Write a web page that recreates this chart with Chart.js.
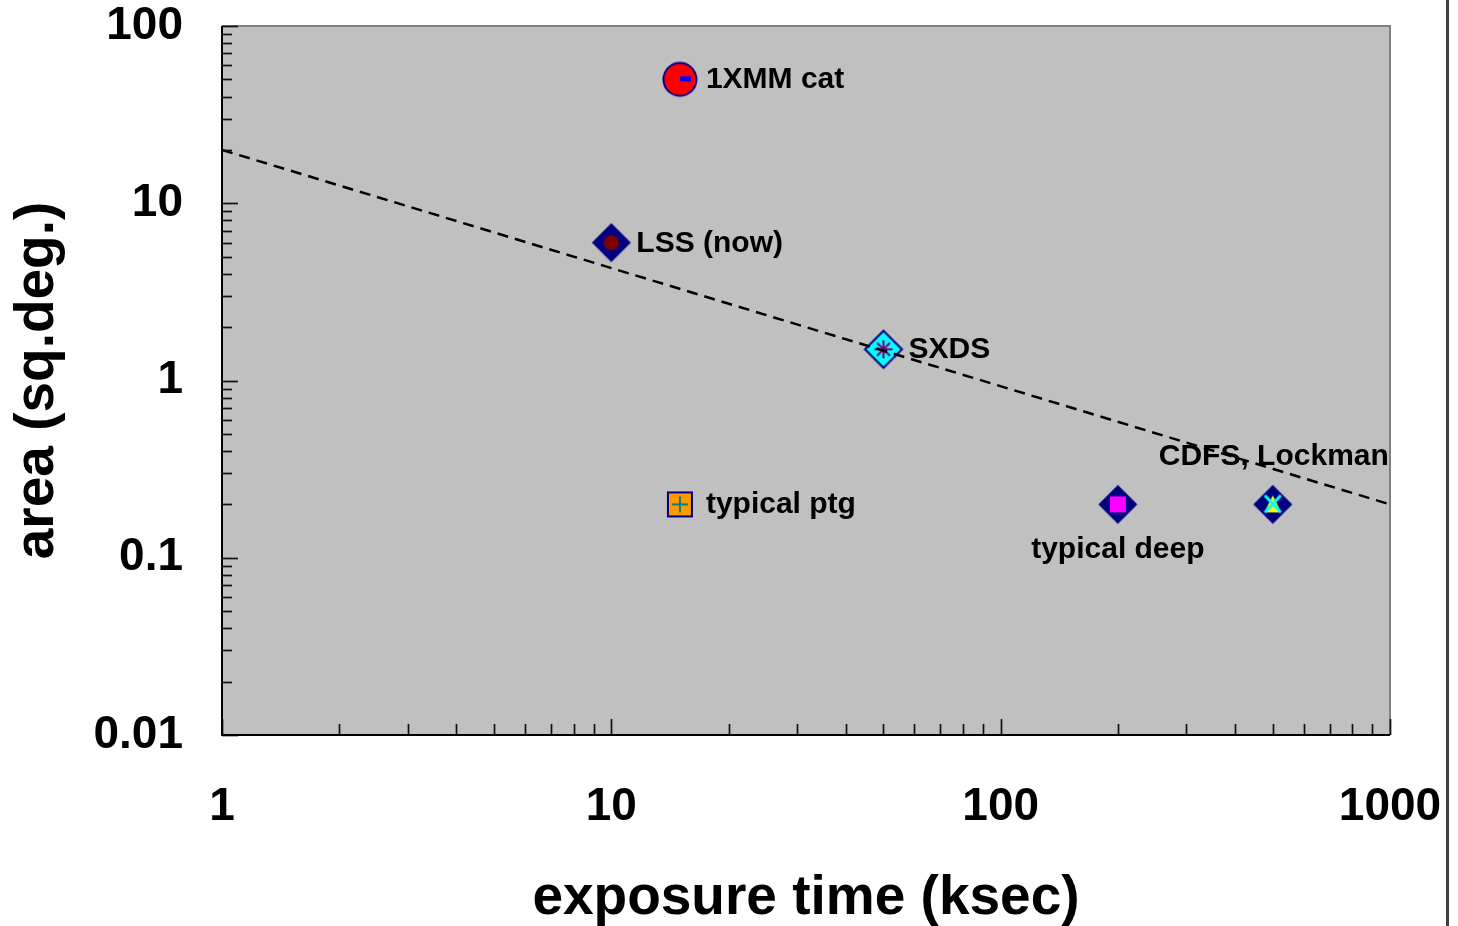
<!DOCTYPE html>
<html>
<head>
<meta charset="utf-8">
<script src="https://cdn.jsdelivr.net/npm/chart.js@4/dist/chart.umd.min.js"></script>
<style>
  html, body { margin: 0; padding: 0; background: #ffffff; }
  #wrap { width: 1458px; height: 926px; }
</style>
</head>
<body>
<div id="wrap"><canvas id="c" width="1458" height="926"></canvas></div>
<script>
// ---- data ----
const surveyNames = ['1XMM cat', 'LSS (now)', 'SXDS', 'typical ptg', 'typical deep', 'CDFS, Lockman'];
const exposureKsec = [15, 10, 50, 15, 200, 500];
const areaSqDeg = [50, 6, 1.5, 0.2, 0.2, 0.2];
const trendExposure = [1, 1000];
const trendArea = [20, 0.2];
const xTickValues = [1, 10, 100, 1000];
const yTickValues = [0.01, 0.1, 1, 10, 100];
const xTitle = 'exposure time (ksec)';
const yTitle = 'area (sq.deg.)';

// ---- styles ----
const FONT = "'Liberation Sans', Arial, Helvetica, sans-serif";
const NAVY = '#000080';
const labelPlacement = [
  {dx: 26, dy: 9, align: 'left'},
  {dx: 25, dy: 9, align: 'left'},
  {dx: 25, dy: 9, align: 'left'},
  {dx: 26, dy: 9, align: 'left'},
  {dx: 0, dy: 54, align: 'center'},
  {dx: 1, dy: -39, align: 'center'}
];

function makeMarker(draw) {
  const cv = document.createElement('canvas');
  cv.width = 46; cv.height = 46;
  const g = cv.getContext('2d');
  draw(g, 23, 23);
  return cv;
}
function diamond(g, cx, cy, h, fill, stroke) {
  g.beginPath();
  g.moveTo(cx, cy - h); g.lineTo(cx + h, cy); g.lineTo(cx, cy + h); g.lineTo(cx - h, cy); g.closePath();
  g.fillStyle = fill; g.fill();
  if (stroke) { g.lineWidth = 2; g.strokeStyle = stroke; g.stroke(); }
}
function seg(g, x1, y1, x2, y2) { g.beginPath(); g.moveTo(x1, y1); g.lineTo(x2, y2); g.stroke(); }

const markers = [
  makeMarker((g, cx, cy) => {
    g.beginPath(); g.arc(cx, cy, 16.5, 0, Math.PI * 2);
    g.fillStyle = '#FF0000'; g.fill(); g.lineWidth = 2; g.strokeStyle = NAVY; g.stroke();
    g.fillStyle = '#0000FF'; g.fillRect(cx, cy - 3, 11, 5);
  }),
  makeMarker((g, cx, cy) => {
    diamond(g, cx, cy, 19.5, NAVY);
    g.beginPath(); g.arc(cx, cy, 7.5, 0, Math.PI * 2); g.fillStyle = '#800000'; g.fill();
  }),
  makeMarker((g, cx, cy) => {
    diamond(g, cx, cy, 18.5, '#00FFFF', NAVY);
    g.strokeStyle = '#800080'; g.lineWidth = 2;
    seg(g, cx, cy - 9, cx, cy + 9);
    seg(g, cx - 9, cy, cx + 9, cy);
    seg(g, cx - 6.5, cy - 6.5, cx + 6.5, cy + 6.5);
    seg(g, cx + 6.5, cy - 6.5, cx - 6.5, cy + 6.5);
  }),
  makeMarker((g, cx, cy) => {
    g.fillStyle = '#FF9900'; g.fillRect(cx - 12, cy - 12, 24, 24);
    g.lineWidth = 2; g.strokeStyle = NAVY; g.strokeRect(cx - 12, cy - 12, 24, 24);
    g.strokeStyle = '#008080'; g.lineWidth = 2;
    seg(g, cx - 8, cy, cx + 8, cy); seg(g, cx, cy - 8, cx, cy + 8);
  }),
  makeMarker((g, cx, cy) => {
    diamond(g, cx, cy, 19.5, NAVY);
    g.fillStyle = '#FF00FF'; g.fillRect(cx - 8, cy - 8, 16, 16);
  }),
  makeMarker((g, cx, cy) => {
    diamond(g, cx, cy, 19.5, NAVY);
    g.beginPath(); g.moveTo(cx, cy - 9); g.lineTo(cx + 8.5, cy + 8); g.lineTo(cx - 8.5, cy + 8); g.closePath();
    g.fillStyle = '#FFFF00'; g.fill();
    g.strokeStyle = '#00FFFF'; g.lineWidth = 3;
    seg(g, cx - 8, cy - 9, cx + 8, cy + 8); seg(g, cx + 8, cy - 9, cx - 8, cy + 8);
  })
];

const surveyPoints = exposureKsec.map((x, i) => ({x: x, y: areaSqDeg[i]}));
const trendPoints = trendExposure.map((x, i) => ({x: x, y: trendArea[i]}));

function minorValues(min, max) {
  const out = [];
  for (let d = min; d < max; d *= 10) {
    for (let k = 2; k <= 9; k++) out.push(+(k * d).toPrecision(6));
  }
  return out;
}

function zeroPadding(scale) {
  scale.paddingTop = 0; scale.paddingBottom = 0;
  scale.paddingLeft = 0; scale.paddingRight = 0;
}

const plotFramePlugin = {
  id: 'plotFrame',
  beforeDatasetsDraw(chart) {
    const {ctx, chartArea: a} = chart;
    ctx.save();
    ctx.fillStyle = '#C0C0C0';
    ctx.fillRect(a.left, a.top, a.right - a.left, a.bottom - a.top);
    // point labels (drawn beneath markers and trend line)
    const meta = chart.getDatasetMeta(0);
    ctx.font = 'bold 30px ' + FONT;
    ctx.fillStyle = '#000000';
    ctx.textBaseline = 'alphabetic';
    meta.data.forEach((pt, i) => {
      const p = labelPlacement[i];
      ctx.textAlign = p.align;
      ctx.fillText(surveyNames[i], pt.x + p.dx, pt.y + p.dy);
    });
    ctx.restore();
  },
  afterDraw(chart) {
    const {ctx, chartArea: a, scales} = chart;
    const xs = scales.x, ys = scales.y;
    ctx.save();
    // top and right border (grey)
    ctx.strokeStyle = '#808080'; ctx.lineWidth = 2;
    ctx.beginPath(); ctx.moveTo(a.left, a.top); ctx.lineTo(a.right, a.top); ctx.lineTo(a.right, a.bottom); ctx.stroke();
    // inward ticks
    ctx.strokeStyle = '#111111'; ctx.lineWidth = 1.7;
    minorValues(0.01, 100).forEach(v => {
      const y = Math.round(ys.getPixelForValue(v)) + 0.5;
      ctx.beginPath(); ctx.moveTo(a.left, y); ctx.lineTo(a.left + 10, y); ctx.stroke();
    });
    yTickValues.forEach(v => {
      const y = Math.round(ys.getPixelForValue(v)) + 0.5;
      ctx.beginPath(); ctx.moveTo(a.left, y); ctx.lineTo(a.left + 16, y); ctx.stroke();
    });
    minorValues(1, 1000).forEach(v => {
      const x = Math.round(xs.getPixelForValue(v)) + 0.5;
      ctx.beginPath(); ctx.moveTo(x, a.bottom); ctx.lineTo(x, a.bottom - 11); ctx.stroke();
    });
    xTickValues.forEach(v => {
      const x = Math.round(xs.getPixelForValue(v)) + 0.5;
      ctx.beginPath(); ctx.moveTo(x, a.bottom); ctx.lineTo(x, a.bottom - 16); ctx.stroke();
    });
    // left and bottom axis lines (black)
    ctx.strokeStyle = '#000000'; ctx.lineWidth = 2;
    ctx.beginPath(); ctx.moveTo(a.left, a.top); ctx.lineTo(a.left, a.bottom); ctx.lineTo(a.right, a.bottom); ctx.stroke();
    // page edge line on the right
    ctx.strokeStyle = '#404040'; ctx.lineWidth = 3;
    ctx.beginPath(); ctx.moveTo(1447.5, 0); ctx.lineTo(1447.5, chart.height); ctx.stroke();
    ctx.restore();
  }
};

new Chart(document.getElementById('c'), {
  type: 'scatter',
  data: {
    datasets: [
      {
        label: 'surveys',
        data: surveyPoints,
        pointStyle: markers,
        pointRadius: 20,
        pointHoverRadius: 20,
        order: 1
      },
      {
        label: 'trend',
        type: 'line',
        data: trendPoints,
        showLine: true,
        borderColor: '#000000',
        borderWidth: 2.5,
        borderDash: [11, 7],
        pointRadius: 0,
        fill: false,
        order: 0
      }
    ]
  },
  options: {
    responsive: false,
    animation: false,
    events: [],
    layout: { padding: { top: 26, right: 68, left: 0, bottom: 0 } },
    plugins: { legend: { display: false }, tooltip: { enabled: false } },
    scales: {
      x: {
        type: 'logarithmic',
        min: 1, max: 1000,
        afterFit(scale) { scale.height = 191; zeroPadding(scale); },
        afterBuildTicks(scale) { scale.ticks = xTickValues.map(v => ({value: v, major: true})); },
        grid: { display: false, drawTicks: false },
        border: { display: false },
        ticks: {
          autoSkip: false, maxRotation: 0, padding: 45,
          color: '#000000',
          font: { family: FONT, size: 46, weight: 'bold' },
          callback: v => String(v)
        },
        title: {
          display: true, text: xTitle, color: '#000000',
          font: { family: FONT, size: 55, weight: 'bold', lineHeight: 1 },
          padding: { top: 0, bottom: 0 }
        }
      },
      y: {
        type: 'logarithmic',
        min: 0.01, max: 100,
        afterFit(scale) { scale.width = 222; zeroPadding(scale); },
        afterBuildTicks(scale) { scale.ticks = yTickValues.map(v => ({value: v, major: true})); },
        grid: { display: false, drawTicks: false },
        border: { display: false },
        ticks: {
          autoSkip: false, padding: 39,
          color: '#000000',
          font: { family: FONT, size: 46, weight: 'bold' },
          callback: v => String(v)
        },
        title: {
          display: true, text: yTitle, color: '#000000',
          font: { family: FONT, size: 55, weight: 'bold', lineHeight: 1 },
          padding: { top: 10, bottom: 0 }
        }
      }
    }
  },
  plugins: [plotFramePlugin]
});
</script>
</body>
</html>
